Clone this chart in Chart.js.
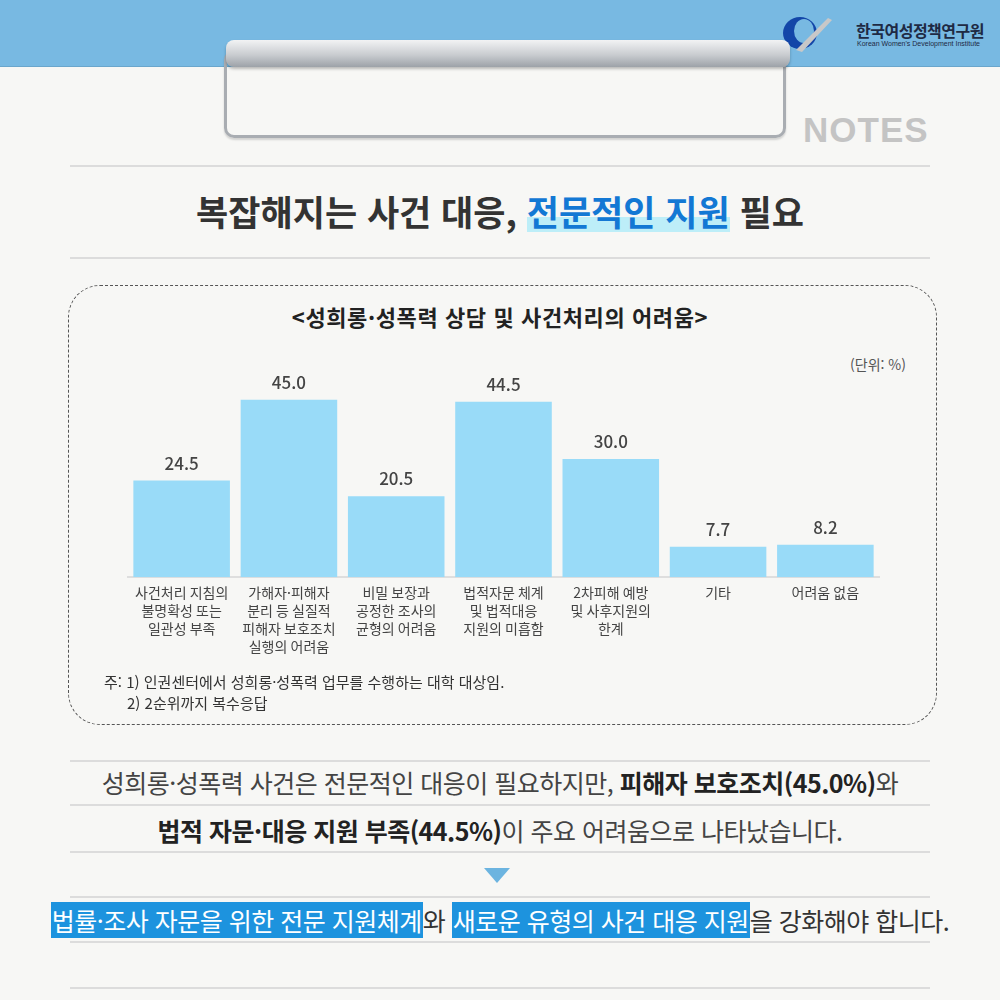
<!DOCTYPE html>
<html lang="ko">
<head>
<meta charset="utf-8">
<script src="https://cdn.jsdelivr.net/npm/chart.js@4"></script>
<style>
  body { margin:0; background:#f7f7f5; font-family:"Noto Sans CJK KR","Noto Sans",sans-serif; }
  #page { position:relative; width:1000px; height:1000px; overflow:hidden; background:#f7f7f5; }
  .abs { position:absolute; }
  .band { left:0; top:0; width:1000px; height:66px; background:#78b9e2; border-bottom:1px solid #6aa6cc; }
  .frame { left:224px; top:50px; width:556px; height:82px; border:3px solid #a9adb2; border-radius:10px; box-shadow:0 2px 2px rgba(0,0,0,0.15); }
  .rod { left:226px; top:40px; width:564px; height:27px; border-radius:8px;
         background:linear-gradient(#f2f3f4,#c9ccd0 55%,#9da2a8); box-shadow:0 2px 3px rgba(0,0,0,0.25); }
  .hline { left:70px; width:860px; height:2px; background:#dcdcdc; }
  .center { left:0; width:1000px; text-align:center; white-space:nowrap; }
  .hl { color:#1378d4; background:linear-gradient(transparent 62%, #bdeef8 62%, #bdeef8 92%, transparent 92%); }
  .box { left:68px; top:285px; width:867px; height:438px; border:1.5px dashed #555; border-radius:32px; }
  .mark { background:#1d93de; color:#fff; padding:0 1px; }
</style>
</head>
<body>
<div id="page">
  <div class="abs band"></div>
  <!-- logo -->
  <svg class="abs" style="left:776px;top:12px" width="60" height="42" viewBox="0 0 60 42">
    <ellipse cx="24" cy="21" rx="17" ry="16" fill="#1346a8"/>
    <ellipse cx="28" cy="19" rx="10" ry="12" fill="#78b9e2"/>
    <path d="M20 38 L52 6 L56 8 L26 40 Z" fill="#c8c8c8"/>
  </svg>
  <div class="abs" style="left:856px;top:18px;font-size:16px;font-weight:700;color:#1e2a44;letter-spacing:-0.5px">한국여성정책연구원</div>
  <div class="abs" style="left:857px;top:40px;font-size:7px;color:#1e2a44;font-family:'Liberation Sans',sans-serif">Korean Women's Development Institute</div>

  <div class="abs frame"></div>
  <div class="abs rod"></div>
  <div class="abs" style="left:803px;top:110px;font-size:35px;font-weight:700;color:#c4c4c4;font-family:'Liberation Sans',sans-serif;letter-spacing:1px">NOTES</div>

  <div class="abs hline" style="top:165px"></div>
  <div class="abs center" style="top:187px;font-size:35px;line-height:48px;font-weight:700;color:#333;letter-spacing:0">복잡해지는 사건 대응, <span class="hl">전문적인 지원</span> 필요</div>
  <div class="abs hline" style="top:257px"></div>

  <div class="abs box"></div>
  <div class="abs center" style="top:300px;font-size:22px;line-height:32px;font-weight:700;color:#222;letter-spacing:0.6px">&lt;성희롱·성폭력 상담 및 사건처리의 어려움&gt;</div>
  <div class="abs" style="left:780px;width:126px;top:354px;text-align:right;font-size:14px;line-height:20px;color:#555">(단위: %)</div>

  <div class="abs" style="left:68px;top:285px;width:869px;height:440px">
    <canvas id="chart" width="869" height="440"></canvas>
  </div>

  <div class="abs" style="left:104px;top:671px;font-size:15px;line-height:22px;color:#333">주: 1) 인권센터에서 성희롱·성폭력 업무를 수행하는 대학 대상임.</div>
  <div class="abs" style="left:127px;top:692px;font-size:15px;line-height:22px;color:#333">2) 2순위까지 복수응답</div>

  <div class="abs hline" style="top:760px"></div>
  <div class="abs center" style="top:765px;font-size:25px;line-height:34px;color:#444;letter-spacing:-0.5px">성희롱·성폭력 사건은 전문적인 대응이 필요하지만, <b style="color:#222">피해자 보호조치(45.0%)</b>와</div>
  <div class="abs hline" style="top:804px"></div>
  <div class="abs center" style="top:813px;font-size:25px;line-height:34px;color:#444;letter-spacing:-0.5px"><b style="color:#222">법적 자문·대응 지원 부족(44.5%)</b>이 주요 어려움으로 나타났습니다.</div>
  <div class="abs hline" style="top:851px"></div>
  <svg class="abs" style="left:484px;top:868px" width="26" height="16"><path d="M0 0 L26 0 L13 15 Z" fill="#6cb4e0"/></svg>
  <div class="abs hline" style="top:896px"></div>
  <div class="abs center" style="top:902px;font-size:25px;line-height:36px;color:#333;letter-spacing:-0.5px"><span class="mark">법률·조사 자문을 위한 전문 지원체계</span>와 <span class="mark">새로운 유형의 사건 대응 지원</span>을 강화해야 합니다.</div>
  <div class="abs hline" style="top:941px"></div>
  <div class="abs hline" style="top:987px"></div>
</div>

<script>
// 성희롱·성폭력 상담 및 사건처리의 어려움 (단위: %)
var categories = [
  ["사건처리 지침의", "불명확성 또는", "일관성 부족"],
  ["가해자·피해자", "분리 등 실질적", "피해자 보호조치", "실행의 어려움"],
  ["비밀 보장과", "공정한 조사의", "균형의 어려움"],
  ["법적자문 체계", "및 법적대응", "지원의 미흡함"],
  ["2차피해 예방", "및 사후지원의", "한계"],
  ["기타"],
  ["어려움 없음"]
];
var values = [24.5, 45.0, 20.5, 44.5, 30.0, 7.7, 8.2];
var valueLabels = ["24.5", "45.0", "20.5", "44.5", "30.0", "7.7", "8.2"];

const valuePlugin = {
  id: 'valueLabels',
  afterDatasetsDraw(chart) {
    const ctx = chart.ctx;
    const meta = chart.getDatasetMeta(0);
    ctx.save();
    ctx.font = '500 17px "Noto Sans CJK KR", sans-serif';
    ctx.fillStyle = '#444';
    ctx.textAlign = 'center';
    ctx.textBaseline = 'alphabetic';
    meta.data.forEach(function(bar, i) {
      ctx.fillText(valueLabels[i], bar.x, bar.y - 11);
    });
    ctx.restore();
  }
};

const config = {
  type: 'bar',
  data: {
    labels: categories,
    datasets: [{
      data: values,
      backgroundColor: '#99dbf8',
      borderWidth: 0,
      barPercentage: 0.9,
      categoryPercentage: 1.0
    }]
  },
  options: {
    responsive: false,
    animation: false,
    layout: { padding: { left: 60, right: 58, top: 95, bottom: 63 } },
    plugins: { legend: { display: false }, tooltip: { enabled: false } },
    scales: {
      x: {
        grid: { display: false, drawTicks: false },
        border: { display: true, color: '#dedede', width: 2 },
        ticks: {
          color: '#444',
          padding: 6,
          maxRotation: 0,
          autoSkip: false,
          font: { family: '"Noto Sans CJK KR", sans-serif', size: 14, lineHeight: 1.3 }
        }
      },
      y: { display: false, min: 0, max: 50 }
    }
  },
  plugins: [valuePlugin]
};

const myChart = new Chart(document.getElementById('chart'), config);
</script>
</body>
</html>
